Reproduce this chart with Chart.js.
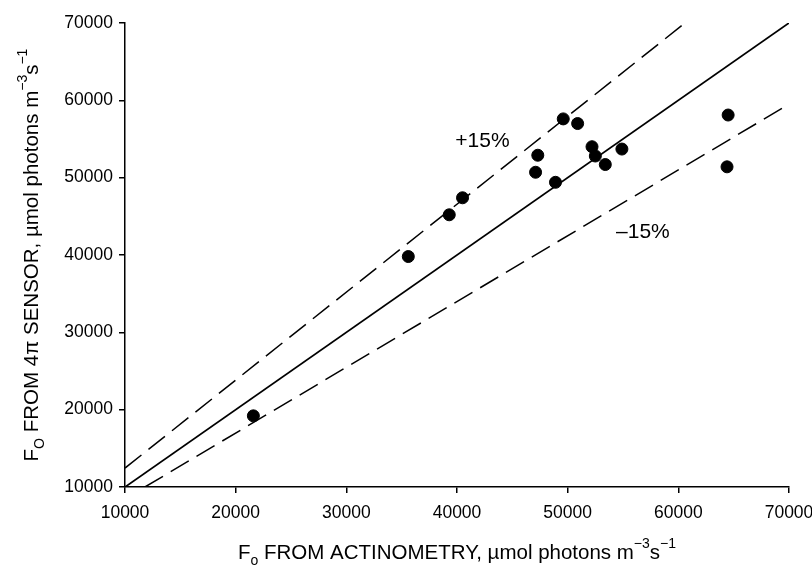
<!DOCTYPE html>
<html>
<head>
<meta charset="utf-8">
<script src="https://cdn.jsdelivr.net/npm/chart.js@4/dist/chart.umd.min.js"></script>
<style>
  html, body { margin: 0; padding: 0; background: #fff; }
  #chart { display: block; }
</style>
</head>
<body>
<canvas id="chart" width="812" height="571"></canvas>
<script>
// measured points: Fo from actinometry (x) vs Fo from 4pi sensor (y)
const actinometry = [21600, 35600, 39300, 40500, 47100, 47300, 48900, 49600, 50900, 52200, 52500, 53400, 54900, 64500, 64400];
const sensor4pi = [19200, 39800, 45200, 47400, 50700, 52900, 49400, 57600, 57000, 54000, 52800, 51700, 53700, 58100, 51400];

// 1:1 line and the +/-15% lines (end points)
const oneToOneX = [10000, 70000];
const oneToOneY = [10000, 70000];
const plusX = [10000, 60600];
const plusY = [12450, 70000];
const minusX = [11800, 70000];
const minusY = [10000, 59500];

const tickValues = [10000, 20000, 30000, 40000, 50000, 60000, 70000];

// text labels on the plot
const noteLabels = ["+15%", "\u201315%"];
const noteX = [42300, 56800];
const noteY = [54700, 42900];

const FONT = "'Liberation Sans', Arial, Helvetica, sans-serif";

const toPoints = (xs, ys) => xs.map((x, i) => ({ x: x, y: ys[i] }));

// draws a string made of normal / sub / sup parts, centred at (0,0)
function drawRich(ctx, parts, size) {
  const small = Math.round(size * 0.68);
  let total = 0;
  parts.forEach((p) => {
    ctx.font = (p.sub || p.sup ? small : size) + "px " + FONT;
    p.w = ctx.measureText(p.t).width;
    total += p.w;
  });
  let x = -total / 2;
  parts.forEach((p) => {
    ctx.font = (p.sub || p.sup ? small : size) + "px " + FONT;
    let dy = 0;
    if (p.sub) dy = size * 0.38;
    if (p.sup) dy = -size * 0.42;
    ctx.fillText(p.t, x, dy);
    x += p.w;
  });
}

const xTitle = [
  { t: "F" }, { t: "o", sub: true },
  { t: " FROM ACTINOMETRY, \u00b5mol photons m" },
  { t: "\u22123", sup: true }, { t: "s" }, { t: "\u22121", sup: true },
];
const yTitle = [
  { t: "F" }, { t: "O", sub: true },
  { t: " FROM 4\u03c0 SENSOR, \u00b5mol photons m" },
  { t: "\u22123", sup: true }, { t: "s" }, { t: "\u22121", sup: true },
];

const textPlugin = {
  id: "texts",
  afterDraw(chart) {
    const ctx = chart.ctx;
    const area = chart.chartArea;
    const xs = chart.scales.x;
    const ys = chart.scales.y;
    ctx.save();
    ctx.fillStyle = "#000";
    ctx.textBaseline = "middle";
    ctx.textAlign = "left";

    // x axis title
    ctx.save();
    ctx.translate((area.left + area.right) / 2, 553);
    drawRich(ctx, xTitle, 20.5);
    ctx.restore();

    // y axis title
    ctx.save();
    ctx.translate(32, (area.top + area.bottom) / 2);
    ctx.rotate(-Math.PI / 2);
    drawRich(ctx, yTitle, 20.5);
    ctx.restore();

    // +15% / -15%
    ctx.font = "21px " + FONT;
    ctx.textAlign = "center";
    noteLabels.forEach((txt, i) => {
      ctx.fillText(txt, xs.getPixelForValue(noteX[i]), ys.getPixelForValue(noteY[i]));
    });
    ctx.restore();
  },
};

const axisBase = {
  type: "linear",
  min: 10000,
  max: 70000,
  border: { color: "#000", width: 1.5 },
  grid: { drawOnChartArea: false, drawTicks: true, tickLength: 6, color: "#000", lineWidth: 1.5 },
};

new Chart(document.getElementById("chart"), {
  type: "scatter",
  data: {
    datasets: [
      {
        label: "data",
        data: toPoints(actinometry, sensor4pi),
        backgroundColor: "#000",
        borderColor: "#000",
        pointRadius: 6,
        pointHoverRadius: 6,
        order: 0,
      },
      {
        label: "1:1",
        type: "line",
        data: toPoints(oneToOneX, oneToOneY),
        borderColor: "#000",
        borderWidth: 1.8,
        pointRadius: 0,
        fill: false,
        order: 1,
      },
      {
        label: "+15%",
        type: "line",
        data: toPoints(plusX, plusY),
        borderColor: "#000",
        borderWidth: 1.5,
        borderDash: [21, 9],
        pointRadius: 0,
        fill: false,
        order: 1,
      },
      {
        label: "-15%",
        type: "line",
        data: toPoints(minusX, minusY),
        borderColor: "#000",
        borderWidth: 1.5,
        borderDash: [21, 9],
        pointRadius: 0,
        fill: false,
        order: 1,
      },
    ],
  },
  options: {
    responsive: false,
    animation: false,
    devicePixelRatio: 1,
    layout: { padding: { top: 23, right: 23, left: 0, bottom: 0 } },
    plugins: {
      legend: { display: false },
      tooltip: { enabled: false },
      title: { display: false },
    },
    scales: {
      x: {
        ...axisBase,
        position: "bottom",
        afterBuildTicks: (scale) => { scale.ticks = tickValues.map((v) => ({ value: v })); },
        afterFit: (scale) => {
          scale.height = 84;
          scale.paddingLeft = 0;
          scale.paddingRight = 0;
        },
        ticks: {
          color: "#000",
          font: { family: FONT, size: 17.5 },
          padding: 10,
          maxRotation: 0,
          callback: (v) => String(v),
        },
      },
      y: {
        ...axisBase,
        position: "left",
        afterBuildTicks: (scale) => { scale.ticks = tickValues.map((v) => ({ value: v })); },
        afterFit: (scale) => {
          scale.width = 125;
          scale.paddingTop = 0;
          scale.paddingBottom = 0;
        },
        ticks: {
          color: "#000",
          font: { family: FONT, size: 17.5 },
          padding: 6,
          callback: (v) => String(v),
        },
      },
    },
  },
  plugins: [textPlugin],
});
</script>
</body>
</html>
